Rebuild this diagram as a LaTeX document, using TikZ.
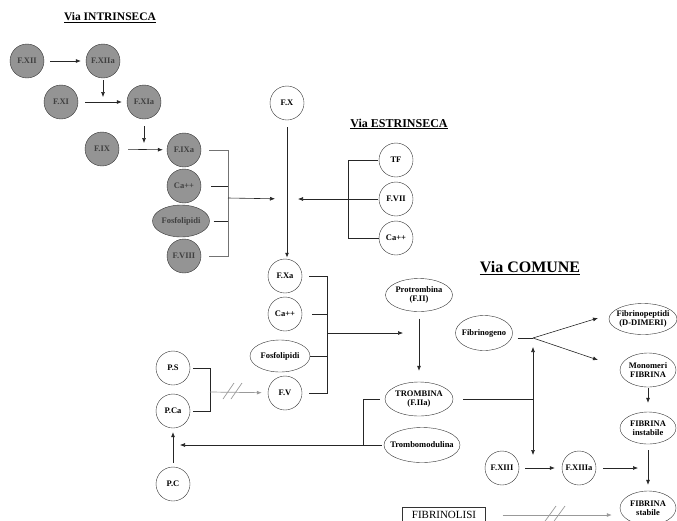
\documentclass[tikz,border=0pt]{standalone}
\usepackage{fontspec}
\setmainfont{Liberation Serif}
\usetikzlibrary{arrows,arrows.meta,shapes,positioning}

\begin{document}
\begin{tikzpicture}[x=1pt,y=-1pt,>={Latex[length=5pt,width=4pt]},
  every node/.style={font=\bfseries\fontsize{8.5}{9.5}\selectfont},
  fattore/.style={circle,draw=black!80,minimum size=34pt,inner sep=0pt},
  intrinseco/.style={fattore,fill=black!42,text=black!75},
  ovale/.style={ellipse,draw=black!80,inner sep=0pt,inner xsep=-5pt,align=center},
  titolo/.style={font=\bfseries\fontsize{11.5}{13}\selectfont},
  linea/.style={draw=black!85,line width=0.6pt},
  freccia/.style={linea,->},
  grigia/.style={draw=black!40,line width=0.7pt}]
\useasboundingbox (0,0) rectangle (677,520);

% via intrinseca
\node[titolo] (tintr) at (110,18) {\underline{Via INTRINSECA}};
\node[intrinseco] (fxii) at (27,61) {F.XII};
\node[intrinseco] (fxiia) at (103,61) {F.XIIa};
\node[intrinseco] (fxi) at (61,102) {F.XI};
\node[intrinseco] (fxia) at (144,102) {F.XIa};
\node[intrinseco] (fix) at (102,149) {F.IX};
\node[intrinseco] (fixa) at (184,150) {F.IXa};
\node[intrinseco] (caint) at (184,186) {Ca++};
\node[intrinseco,ellipse,minimum width=57pt,minimum height=32pt,inner xsep=-5pt] (fosint) at (181,221) {Fosfolipidi};
\node[intrinseco] (fviii) at (184,256) {F.VIII};
\coordinate (giu1) at (103,97);
\coordinate (giu2) at (144,143);
\coordinate (sbarra1) at (228,198);

\draw[freccia,shorten <=6pt,shorten >=5pt] (fxii) -- (fxiia);
\draw[freccia,shorten <=7pt,shorten >=5pt] (fxi) -- (fxia);
\draw[freccia,shorten <=9pt,shorten >=4pt] (fix) -- (fixa);
\draw[freccia,shorten <=2pt] (fxiia) -- (giu1);
\draw[freccia,shorten <=7pt] (fxia) -- (giu2);
\draw[draw=black!55,line width=0.6pt] ([xshift=8pt]fixa.east) -- (fixa -| sbarra1) -- (fviii -| sbarra1) -- ([xshift=8pt]fviii.east);
\draw[linea] ([xshift=10pt]caint.east) -- (caint -| sbarra1);
\draw[linea] ([xshift=4pt]fosint.east) -- (fosint -| sbarra1);

% via estrinseca
\node[titolo,font=\bfseries\fontsize{12}{14}\selectfont] (testr) at (399,124) {\underline{Via ESTRINSECA}};
\node[fattore] (tf) at (396,160) {TF};
\node[fattore] (fvii) at (396,199) {F.VII};
\node[fattore] (caest) at (396,238) {Ca++};
\coordinate (sbarra2) at (348,199);
\draw[linea,shorten <=1pt] (tf) -- (tf -| sbarra2) -- (caest -| sbarra2) -- (caest);
\draw[linea,shorten <=1pt] (fvii) -- (sbarra2);

% F.X
\node[fattore] (fx) at (287,103) {F.X};
\node[fattore] (fxa) at (285,276) {F.Xa};
\coordinate (incrocio) at (287,199);
\draw[->,line width=1pt,black!85,shorten <=7pt,shorten >=1pt] (fx) -- (fxa.north -| fx);
\draw[freccia,shorten >=12pt] (sbarra1) -- (incrocio);
\draw[freccia,shorten >=11pt] (sbarra2) -- (incrocio);

% complesso protrombinasi
\node[fattore] (cacom) at (285,314) {Ca++};
\node[ovale,minimum width=60pt,minimum height=32pt] (fosfcom) at (280,356) {Fosfolipidi};
\node[fattore] (fv) at (285,393) {F.V};
\coordinate (sbarra3) at (327,333);
\draw[linea] ([xshift=7pt]fxa.east) -- (fxa -| sbarra3) -- (fv -| sbarra3) -- ([xshift=7pt]fv.east);
\draw[linea] ([xshift=10pt]cacom.east) -- (cacom -| sbarra3);
\draw[linea] (fosfcom) -- (fosfcom -| sbarra3);

\node[ovale,minimum width=67pt,minimum height=33pt] (protr) at (419,295) {Protrombina\\(F.II)};
\node[ovale,minimum width=68pt,minimum height=34pt] (trombina) at (419,399) {TROMBINA\\(F.IIa)};
\node[ovale,minimum width=76pt,minimum height=35pt] (tmod) at (422,445) {Trombomodulina};
\draw[freccia,shorten >=16pt] (sbarra3) -- (protr |- sbarra3);
\draw[freccia,shorten <=7pt,shorten >=11pt] (protr) -- (trombina);

% proteina C e S
\node[fattore] (ps) at (173,368) {P.S};
\node[fattore] (pca) at (173,411) {P.Ca};
\node[fattore] (pc) at (173,484) {P.C};
\coordinate (sbarra4) at (363,445);
\coordinate (sbarra5) at (210,392);
\coordinate (punta1) at (180,445);
\coordinate (taglio1) at (229,391);
\draw[linea] ([xshift=-5pt]trombina.west) -- (trombina -| sbarra4) -- (sbarra4);
\draw[linea] ([xshift=-2pt]tmod.west) -- (sbarra4);
\draw[freccia] (sbarra4) -- (punta1);
\draw[freccia,shorten <=4pt,shorten >=4pt] (pc) -- (pca);
\draw[linea] ([xshift=3pt]ps.east) -- (ps -| sbarra5) -- (pca -| sbarra5) -- ([xshift=3pt]pca.east);
\draw[grigia,->,shorten >=6pt] (sbarra5) -- (fv);
\draw[grigia] ([shift={(-6pt,-8pt)}]taglio1) -- ([shift={(5pt,8pt)}]taglio1);
\draw[grigia] ([shift={(2pt,-8pt)}]taglio1) -- ([shift={(13pt,8pt)}]taglio1);

% via comune
\node[font=\bfseries\fontsize{16}{19}\selectfont] (tcom) at (530,268) {\underline{Via COMUNE}};
\node[ovale,minimum width=57pt,minimum height=35pt] (fibrinogeno) at (484,333) {Fibrinogeno};
\node[ovale,minimum width=68pt,minimum height=31pt] (fibrinopep) at (643,319) {Fibrinopeptidi\\(D-DIMERI)};
\node[ovale,minimum width=56pt,minimum height=34pt] (monomeri) at (648,370) {Monomeri\\FIBRINA};
\node[ovale,minimum width=56pt,minimum height=32pt] (instabile) at (648,428) {FIBRINA\\instabile};
\node[ovale,minimum width=56pt,minimum height=34pt] (stabile) at (648,508) {FIBRINA\\stabile};
\node[fattore] (fxiii) at (502,468) {F.XIII};
\node[fattore] (fxiiia) at (579,468) {F.XIIIa};
\node[draw=black!80,font=\fontsize{11}{12}\selectfont,minimum width=83pt,minimum height=16pt,inner sep=0pt] (fibrinolisi) at (444,515) {FIBRINOLISI};
\coordinate (biforc) at (533,338);
\coordinate (giu3) at (533,455);
\coordinate (puntaD) at (598,318);
\coordinate (puntaM) at (598,360);
\coordinate (puntaS) at (638,468);
\coordinate (taglio2) at (550,515);

\draw[linea] ([xshift=5pt,yshift=-5pt]fibrinogeno.east) -- (biforc);
\draw[freccia] (biforc) -- (puntaD);
\draw[freccia] (biforc) -- (puntaM);
\draw[linea,<->,shorten <=9pt] (biforc) -- (giu3);
\draw[linea] ([xshift=10pt]trombina.east) -- (trombina -| biforc);
\draw[freccia,shorten <=1pt,shorten >=9pt] (monomeri) -- (instabile);
\draw[freccia,shorten <=6pt,shorten >=6pt] (instabile) -- (stabile);
\draw[freccia,shorten <=6pt,shorten >=7pt] (fxiii) -- (fxiiia);
\draw[freccia,shorten <=7pt] (fxiiia) -- (puntaS);
\draw[grigia,->,shorten >=8pt] ([xshift=17pt]fibrinolisi.east) -- ([yshift=-7pt]stabile.west);
\draw[grigia] ([shift={(-7pt,-9pt)}]taglio2) -- ([shift={(6pt,9pt)}]taglio2);
\draw[grigia] ([shift={(2pt,-9pt)}]taglio2) -- ([shift={(15pt,9pt)}]taglio2);
\end{tikzpicture}
\end{document}
